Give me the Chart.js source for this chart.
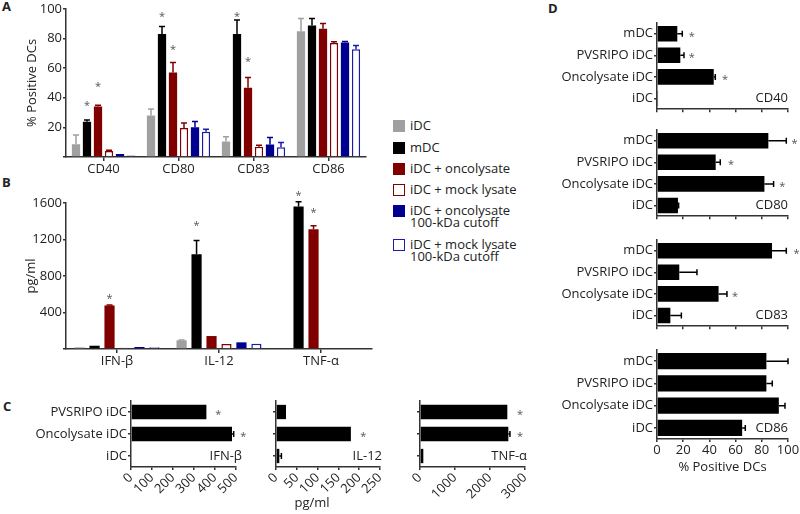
<!DOCTYPE html>
<html>
<head>
<meta charset="utf-8">
<script src="https://cdn.jsdelivr.net/npm/chart.js@4.4.1/dist/chart.umd.min.js"></script>
<style>
  body { margin: 0; background: #fff; font-family: "Open Sans", sans-serif; color: #222; }
  #fig { position: relative; width: 800px; height: 514px; overflow: hidden; background: #fff; }
  #fig canvas { position: absolute; }
  .letter { position: absolute; font-weight: bold; font-size: 13px; line-height: 13px; }
  .key { position: absolute; left: 393px; font-size: 13px; line-height: 12px; white-space: nowrap; }
  .key i { position: absolute; left: 0; top: 0; width: 12px; height: 12px; box-sizing: border-box; }
  .key span { position: absolute; left: 17px; top: -1px; }
</style>
</head>
<body>
<div id="fig">
  <div class="letter" style="left:2px;top:0px">A</div>
  <div class="letter" style="left:2px;top:176px">B</div>
  <div class="letter" style="left:3px;top:400px">C</div>
  <div class="letter" style="left:548px;top:2px">D</div>

  <canvas id="chartA" width="370" height="180" style="left:0;top:0"></canvas>
  <canvas id="chartB" width="375" height="190" style="left:0;top:180px"></canvas>
  <canvas id="chartC1" width="250" height="124" style="left:0;top:390px"></canvas>
  <canvas id="chartC2" width="145" height="124" style="left:250px;top:390px"></canvas>
  <canvas id="chartC3" width="145" height="124" style="left:395px;top:390px"></canvas>
  <canvas id="chartD1" width="260" height="108" style="left:540px;top:10px"></canvas>
  <canvas id="chartD2" width="260" height="105" style="left:540px;top:120px"></canvas>
  <canvas id="chartD3" width="260" height="105" style="left:540px;top:230px"></canvas>
  <canvas id="chartD4" width="260" height="140" style="left:540px;top:340px"></canvas>

  <div class="key" style="top:120px"><i style="background:#a0a0a0"></i><span>iDC</span></div>
  <div class="key" style="top:142px"><i style="background:#000"></i><span>mDC</span></div>
  <div class="key" style="top:163px"><i style="background:#800000"></i><span>iDC + oncolysate</span></div>
  <div class="key" style="top:184px"><i style="border:1.5px solid #800000"></i><span>iDC + mock lysate</span></div>
  <div class="key" style="top:205px"><i style="background:#000090"></i><span>iDC + oncolysate<br>100-kDa cutoff</span></div>
  <div class="key" style="top:239px"><i style="border:1.5px solid #1c1caa"></i><span>iDC + mock lysate<br>100-kDa cutoff</span></div>
</div>

<script>
// ---- Panel A: % positive DCs per marker ----
const markers = ['CD40', 'CD80', 'CD83', 'CD86'];
const aIDC = [8.6, 28, 10.4, 84.8];
const aIDCErr = [6.2, 4.4, 3.3, 8.6];
const aMDC = [23.8, 83, 83, 88.8];
const aMDCErr = [1.2, 5, 9.5, 4.6];
const aMDCStar = [36.6, 96.7, 96.7, null];
const aOnco = [34, 57, 46.7, 86.6];
const aOncoErr = [1, 6.7, 7, 3.4];
const aOncoStar = [49.2, 74, 66, null];
const aMock = [4, 19.6, 7, 77];
const aMockErr = [0.5, 3.4, 1, 0.8];
const aOncoCut = [2, 20, 8.4, 77.3];
const aOncoCutErr = [0, 4, 4.8, 0.7];
const aMockCut = [1, 17, 6.6, 72.7];
const aMockCutErr = [0, 1.7, 3.1, 2.6];
const aTicks = [0, 100, 20];

// ---- Panel B: cytokines, pg/ml ----
const cytokines = ['IFN-β', 'IL-12', 'TNF-α'];
const bIDC = [18, 95, 0];
const bIDCErr = [0, 3, 0];
const bMDC = [36, 1039, 1563];
const bMDCErr = [0, 149, 51];
const bMDCStar = [null, 1384, 1706];
const bOnco = [477, 142, 1312];
const bOncoErr = [5, 0, 40];
const bOncoStar = [581, null, 1523];
const bMock = [15, 55, null];
const bOncoCut = [22, 73, 0];
const bMockCut = [18, 58, null];
const bTicks = [0, 1600, 400];

// ---- Panel C: cytokines by treatment ----
const groupsC = ['PVSRIPO iDC', 'Oncolysate iDC', 'iDC'];
const cIFN = [359, 481, 0];
const cIFNErr = [0, 8, 0];
const cIFNStar = [416, 535, null];
const cIL12 = [24, 180, 8];
const cIL12Err = [0, 0, 5];
const cIL12Star = [null, 210, null];
const cTNF = [2495, 2524, 95];
const cTNFErr = [0, 46, 0];
const cTNFStar = [2857, 2857, null];

// ---- Panel D: % positive DCs by treatment ----
const groupsD = ['mDC', 'PVSRIPO iDC', 'Oncolysate iDC', 'iDC'];
const dCD40 = [15.5, 17.8, 43.3, 0.8];
const dCD40Err = [3.8, 2.8, 1.2, 0];
const dCD40Star = [26.5, 26.5, 52, null];
const dCD80 = [85, 44.8, 82, 16];
const dCD80Err = [13.7, 3.5, 7, 0.5];
const dCD80Star = [105, 56.5, 95.7, null];
const dCD83 = [87.8, 17, 47, 10.2];
const dCD83Err = [10.9, 13.5, 6.4, 8.4];
const dCD83Star = [106.6, null, 59.5, null];
const dCD86 = [83.5, 83.5, 93, 65];
const dCD86Err = [16.5, 4.5, 4.7, 2.4];

const GRAY = '#a0a0a0', BLACK = '#000000', RED = '#800000', BLUE = '#000090', LBLUE = '#1c1caa';
const AX = '#333333';
const FONT = { family: 'Open Sans', size: 13 };
const TITLE_FONT = { family: 'Open Sans', size: 13 };

// draws error bars (upper side only) and significance stars
const errorBars = {
  id: 'errorBars',
  afterDatasetsDraw(chart) {
    const ctx = chart.ctx;
    const horiz = chart.options.indexAxis === 'y';
    const vs = horiz ? chart.scales.x : chart.scales.y;
    chart.data.datasets.forEach((ds, di) => {
      const meta = chart.getDatasetMeta(di);
      meta.data.forEach((bar, i) => {
        const v = ds.data[i];
        if (v == null) return;
        ctx.save();
        const err = ds.errors ? ds.errors[i] : 0;
        if (err) {
          const end = vs.getPixelForValue(v + err);
          ctx.strokeStyle = ds.errColor;
          ctx.lineWidth = 1.5;
          ctx.beginPath();
          if (horiz) {
            ctx.moveTo(bar.x, bar.y); ctx.lineTo(end, bar.y);
            ctx.moveTo(end, bar.y - 3); ctx.lineTo(end, bar.y + 3);
          } else {
            ctx.moveTo(bar.x, bar.y); ctx.lineTo(bar.x, end);
            ctx.moveTo(bar.x - 3, end); ctx.lineTo(bar.x + 3, end);
          }
          ctx.stroke();
        }
        if (ds.stars && ds.stars[i] != null) {
          const p = vs.getPixelForValue(ds.stars[i]);
          ctx.fillStyle = '#555';
          ctx.font = '11px "Open Sans"';
          ctx.textAlign = 'center';
          ctx.textBaseline = 'middle';
          if (horiz) ctx.fillText('*', p, bar.y + 3);
          else ctx.fillText('*', bar.x, p + 3);
        }
        ctx.restore();
      });
    });
  }
};

// small label in the lower right corner of a plot (CD40, IFN-β ...)
const cornerLabel = {
  id: 'cornerLabel',
  afterDraw(chart, args, opts) {
    if (!opts.text) return;
    const ctx = chart.ctx;
    const ys = chart.scales.y;
    const n = chart.data.labels.length;
    ctx.save();
    ctx.fillStyle = '#222';
    ctx.font = '13px "Open Sans"';
    ctx.textAlign = 'right';
    ctx.textBaseline = 'middle';
    ctx.fillText(opts.text, chart.chartArea.right + (opts.dx || 0), ys.getPixelForValue(n - 1));
    ctx.restore();
  }
};

// axis title placed at a fixed distance from the plot area
const freeTitle = {
  id: 'freeTitle',
  afterDraw(chart, args, opts) {
    if (!opts.text) return;
    const a = chart.chartArea;
    const ctx = chart.ctx;
    ctx.save();
    ctx.fillStyle = '#222';
    ctx.font = '13px "Open Sans"';
    ctx.textAlign = 'center';
    ctx.textBaseline = 'middle';
    if (opts.side === 'left') {
      ctx.translate(a.left - opts.offset, (a.top + a.bottom) / 2);
      ctx.rotate(-Math.PI / 2);
      ctx.fillText(opts.text, 0, 0);
    } else {
      ctx.fillText(opts.text, (a.left + a.right) / 2 + (opts.shift || 0), a.bottom + opts.offset);
    }
    ctx.restore();
  }
};

function series(label, data, errors, stars, color, open) {
  return {
    label: label,
    data: data,
    errors: errors,
    stars: stars,
    errColor: color,
    backgroundColor: open ? '#ffffff' : color,
    borderColor: color,
    borderWidth: open ? 1.5 : 0
  };
}

function axisStyle(tickLen) {
  return {
    grid: { drawOnChartArea: false, offset: false, tickLength: tickLen, color: AX, lineWidth: 1.5 },
    border: { color: AX, width: 1.5 }
  };
}

function columnChart(id, labels, datasets, ticks, title, titleOffset, pad, xH, catPct, barPct) {
  return new Chart(document.getElementById(id), {
    type: 'bar',
    data: { labels: labels, datasets: datasets },
    options: {
      responsive: false,
      animation: false,
      layout: { padding: pad },
      datasets: { bar: { categoryPercentage: catPct, barPercentage: barPct } },
      scales: {
        x: Object.assign(axisStyle(4), {
          ticks: { color: '#222', font: FONT, padding: 0 },
          afterFit: s => { s.height = xH; }
        }),
        y: Object.assign(axisStyle(3), {
          min: ticks[0], max: ticks[1],
          ticks: { stepSize: ticks[2], color: '#222', font: FONT, padding: 1, callback: v => v === 0 ? '' : String(v) },
          afterFit: s => { s.width = 66; }
        })
      },
      plugins: {
        legend: { display: false }, tooltip: { enabled: false },
        freeTitle: { text: title, side: 'left', offset: titleOffset }
      }
    },
    plugins: [errorBars, freeTitle]
  });
}

function rowChart(id, labels, data, errors, stars, o) {
  return new Chart(document.getElementById(id), {
    type: 'bar',
    data: { labels: labels, datasets: [series('', data, errors, stars, BLACK, false)] },
    options: {
      indexAxis: 'y',
      responsive: false,
      animation: false,
      layout: { padding: o.pad },
      datasets: { bar: { categoryPercentage: 1, barPercentage: o.barPct } },
      scales: {
        x: Object.assign(axisStyle(3), {
          min: o.ticks[0], max: o.ticks[1],
          ticks: {
            stepSize: o.ticks[2], display: o.showX, color: '#222', font: FONT, padding: o.xPad || 0,
            autoSkip: false, minRotation: o.rot || 0, maxRotation: o.rot || 0,
            callback: v => String(v)
          },
          afterFit: s => { s.height = o.xH; }
        }),
        y: Object.assign(axisStyle(3), {
          ticks: { display: o.showY, color: '#222', font: FONT, padding: 1 },
          afterFit: s => { s.width = o.yW; }
        })
      },
      plugins: {
        legend: { display: false }, tooltip: { enabled: false },
        cornerLabel: { text: o.corner, dx: o.dx || 0 },
        freeTitle: { text: o.xTitle, side: 'bottom', offset: o.titleOffset || 0, shift: o.titleShift || 0 }
      }
    },
    plugins: [errorBars, cornerLabel, freeTitle]
  });
}

// Panel A
columnChart('chartA', markers, [
  series('iDC', aIDC, aIDCErr, null, GRAY, false),
  series('mDC', aMDC, aMDCErr, aMDCStar, BLACK, false),
  series('iDC + oncolysate', aOnco, aOncoErr, aOncoStar, RED, false),
  series('iDC + mock lysate', aMock, aMockErr, null, RED, true),
  series('iDC + oncolysate 100-kDa cutoff', aOncoCut, aOncoCutErr, null, BLUE, false),
  series('iDC + mock lysate 100-kDa cutoff', aMockCut, aMockCutErr, null, LBLUE, true)
], aTicks, '% Positive DCs', 34, { top: 6, right: 4 }, 23, 0.88, 0.75);

// Panel B
columnChart('chartB', cytokines, [
  series('iDC', bIDC, bIDCErr, null, GRAY, false),
  series('mDC', bMDC, bMDCErr, bMDCStar, BLACK, false),
  series('iDC + oncolysate', bOnco, bOncoErr, bOncoStar, RED, false),
  series('iDC + mock lysate', bMock, null, null, RED, true),
  series('iDC + oncolysate 100-kDa cutoff', bOncoCut, null, null, BLUE, false),
  series('iDC + mock lysate 100-kDa cutoff', bMockCut, null, null, LBLUE, true)
], bTicks, 'pg/ml', 35, { top: 23, right: 3 }, 21, 0.88, 0.68);

// Panel C
const cBase = { barPct: 0.65, xH: 47, showX: true, rot: 45, xPad: 0 };
rowChart('chartC1', groupsC, cIFN, cIFNErr, cIFNStar, Object.assign({}, cBase, {
  ticks: [0, 500, 100], pad: { top: 11, right: 14 }, yW: 131, showY: true, corner: 'IFN-β', dx: 6
}));
rowChart('chartC2', groupsC, cIL12, cIL12Err, cIL12Star, Object.assign({}, cBase, {
  ticks: [0, 250, 50], pad: { top: 11, right: 15 }, yW: 26, showY: false, corner: 'IL-12', dx: 2,
  xTitle: 'pg/ml', titleOffset: 36, titleShift: -16
}));
rowChart('chartC3', groupsC, cTNF, cTNFErr, cTNFStar, Object.assign({}, cBase, {
  ticks: [0, 3000, 1000], pad: { top: 11, right: 15 }, yW: 25, showY: false, corner: 'TNF-α', dx: 2
}));

// Panel D
const dBase = { ticks: [0, 100, 20], barPct: 0.72, yW: 117, showY: true, xH: 6, showX: false };
rowChart('chartD1', groupsD, dCD40, dCD40Err, dCD40Star, Object.assign({}, dBase, { pad: { top: 13, right: 12 }, corner: 'CD40' }));
rowChart('chartD2', groupsD, dCD80, dCD80Err, dCD80Star, Object.assign({}, dBase, { pad: { top: 10, right: 12 }, corner: 'CD80' }));
rowChart('chartD3', groupsD, dCD83, dCD83Err, dCD83Star, Object.assign({}, dBase, { pad: { top: 10, right: 12 }, corner: 'CD83' }));
rowChart('chartD4', groupsD, dCD86, dCD86Err, null, Object.assign({}, dBase, {
  pad: { top: 10, right: 12 }, corner: 'CD86', xH: 41, showX: true,
  xTitle: '% Positive DCs', titleOffset: 28
}));
</script>
</body>
</html>
